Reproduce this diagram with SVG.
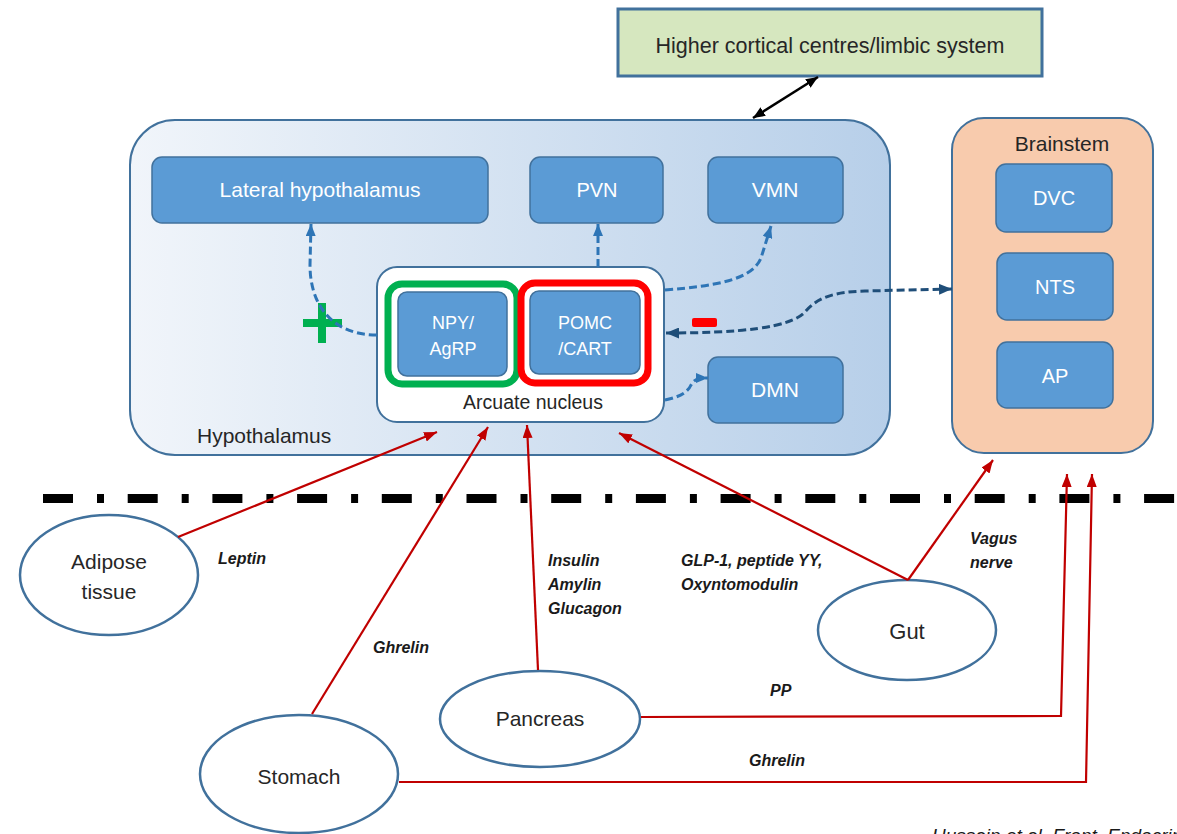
<svg xmlns="http://www.w3.org/2000/svg" width="1177" height="834" viewBox="0 0 1177 834">
<defs>
<linearGradient id="hypoGrad" x1="0" y1="0" x2="1" y2="0">
<stop offset="0" stop-color="#f1f5fa"/>
<stop offset="1" stop-color="#b7cfe9"/>
</linearGradient>
<marker id="redArrow" markerUnits="userSpaceOnUse" markerWidth="13" markerHeight="10" refX="13" refY="5" orient="auto">
<path d="M0,0 L13,5 L0,10 z" fill="#c00000"/>
</marker>
<marker id="blueArrow" markerUnits="userSpaceOnUse" markerWidth="12" markerHeight="10" refX="12" refY="5" orient="auto-start-reverse">
<path d="M0,0 L12,5 L0,10 z" fill="#2e75b6"/>
</marker>
<marker id="darkArrow" markerUnits="userSpaceOnUse" markerWidth="13" markerHeight="11" refX="13" refY="5.5" orient="auto-start-reverse">
<path d="M0,0 L13,5.5 L0,11 z" fill="#1f4e79"/>
</marker>
<marker id="blackArrow" markerUnits="userSpaceOnUse" markerWidth="12" markerHeight="10" refX="12" refY="5" orient="auto-start-reverse">
<path d="M0,0 L12,5 L0,10 z" fill="#000"/>
</marker>
</defs>
<style>
text{font-family:"Liberation Sans",Arial,sans-serif}
.box{fill:#5b9bd5;stroke:#41719c;stroke-width:1.5}
.wt{fill:#ffffff;font-size:20px;text-anchor:middle}
.dk{fill:#262626;text-anchor:middle}
.ell{fill:#ffffff;stroke:#41719c;stroke-width:2.5}
.lbl{fill:#1a1a1a;font-size:16px;font-weight:bold;font-style:italic}
.red{fill:none;stroke:#c00000;stroke-width:2.2;marker-end:url(#redArrow)}
.bd{fill:none;stroke:#2e75b6;stroke-width:3;stroke-dasharray:8 4;marker-end:url(#blueArrow)}
</style>
<rect width="1177" height="834" fill="#ffffff"/>

<g id="hypothalamus">
<rect x="130" y="120" width="760" height="335" rx="45" fill="url(#hypoGrad)" stroke="#41719c" stroke-width="2"/>
<text class="dk" x="197" y="443" style="text-anchor:start;font-size:21px">Hypothalamus</text>
</g>

<g id="higher-cortical">
<rect x="618" y="9" width="424" height="67" fill="#d6e7bf" stroke="#41719c" stroke-width="3"/>
<text class="dk" x="830" y="53" font-size="21.5">Higher cortical centres/limbic system</text>
</g>

<g id="lateral-hypothalamus">
<rect class="box" x="152" y="157" width="336" height="66" rx="10"/>
<text class="wt" x="320" y="197" style="font-size:21px">Lateral hypothalamus</text>
</g>
<g id="pvn">
<rect class="box" x="530" y="157" width="133" height="66" rx="10"/>
<text class="wt" x="597" y="197">PVN</text>
</g>
<g id="vmn">
<rect class="box" x="708" y="157" width="135" height="66" rx="10"/>
<text class="wt" x="775" y="197" style="font-size:21px">VMN</text>
</g>
<g id="dmn">
<rect class="box" x="708" y="357" width="135" height="66" rx="10"/>
<text class="wt" x="775" y="397" style="font-size:21px">DMN</text>
</g>

<g id="arcuate-nucleus">
<rect x="377" y="267" width="287" height="155" rx="20" fill="#ffffff" stroke="#41719c" stroke-width="2"/>
<text class="dk" x="533" y="409" font-size="19.5">Arcuate nucleus</text>
</g>
<g id="npy-agrp">
<rect x="388" y="284" width="129" height="100" rx="14" fill="none" stroke="#00b050" stroke-width="7"/>
<rect class="box" x="398" y="292" width="109" height="84" rx="9"/>
<text class="wt" x="453" y="329" style="font-size:18px">NPY/</text>
<text class="wt" x="453" y="355" style="font-size:18px">AgRP</text>
</g>
<g id="pomc-cart">
<rect x="521" y="283" width="127" height="100" rx="14" fill="none" stroke="#ff0000" stroke-width="7"/>
<rect class="box" x="530" y="291" width="110" height="83" rx="9"/>
<text class="wt" x="585" y="329" style="font-size:18px">POMC</text>
<text class="wt" x="585" y="355" style="font-size:18px">/CART</text>
</g>
<g id="plus-sign">
<rect x="303" y="319" width="39" height="8" fill="#00b050"/>
<rect x="318" y="303" width="8" height="40" fill="#00b050"/>
</g>
<g id="minus-sign">
<rect x="692" y="318" width="25" height="9" rx="2" fill="#ff0000"/>
</g>

<g id="brainstem">
<rect x="952" y="118" width="201" height="335" rx="32" fill="#f8cbad" stroke="#41719c" stroke-width="2"/>
<text class="dk" x="1062" y="151" font-size="21px">Brainstem</text>
</g>
<g id="dvc">
<rect class="box" x="996" y="164" width="116" height="68" rx="10"/>
<text class="wt" x="1054" y="205">DVC</text>
</g>
<g id="nts">
<rect class="box" x="997" y="253" width="116" height="67" rx="10"/>
<text class="wt" x="1055" y="294">NTS</text>
</g>
<g id="ap">
<rect class="box" x="997" y="342" width="116" height="66" rx="10"/>
<text class="wt" x="1055" y="383">AP</text>
</g>

<g id="adipose-tissue">
<ellipse class="ell" cx="109" cy="575" rx="89" ry="60"/>
<text class="dk" x="109" y="569" font-size="21">Adipose</text>
<text class="dk" x="109" y="599" font-size="21">tissue</text>
</g>
<g id="stomach">
<ellipse class="ell" cx="299" cy="774" rx="99" ry="59"/>
<text class="dk" x="299" y="784" font-size="21">Stomach</text>
</g>
<g id="pancreas">
<ellipse class="ell" cx="540" cy="719" rx="100" ry="48"/>
<text class="dk" x="540" y="726" font-size="21">Pancreas</text>
</g>
<g id="gut">
<ellipse class="ell" cx="907" cy="630" rx="89" ry="50"/>
<text class="dk" x="907" y="639" font-size="22">Gut</text>
</g>

<g id="connectors">
<line x1="753" y1="118" x2="818" y2="77" stroke="#000" stroke-width="2.5" marker-start="url(#blackArrow)" marker-end="url(#blackArrow)"/>
<path class="bd" d="M377,335 C332,335 310,305 310,265 L311,224"/>
<path class="bd" d="M598,267 L598,224"/>
<path class="bd" d="M665,290 C715,286 752,280 761,258 L771,226"/>
<path d="M666,333 C740,333 790,328 805,312 C817,298 832,292 865,291 L952,289" fill="none" stroke="#1f4e79" stroke-width="3" stroke-dasharray="8 4" marker-start="url(#darkArrow)" marker-end="url(#darkArrow)"/>
<path class="bd" d="M665,400 C680,397 688,392 691,385 C694,379 699,378 708,378"/>

<line x1="43" y1="498.5" x2="1177" y2="498.5" stroke="#000" stroke-width="9" stroke-dasharray="30 24 7 23.7"/>

<path class="red" d="M178,537 L437,432"/>
<path class="red" d="M312,714 L488,427"/>
<path class="red" d="M538,670 L527,425"/>
<path class="red" d="M908,580 L619,433"/>
<path class="red" d="M908,580 L993,460"/>
<path class="red" d="M641,717 L1061,716 L1067,474"/>
<path class="red" d="M399,782 L1086,782 L1092,474"/>
</g>

<g id="labels">
<text class="lbl" x="218" y="564">Leptin</text>
<text class="lbl" x="373" y="653">Ghrelin</text>
<text class="lbl" x="548" y="566">Insulin</text>
<text class="lbl" x="548" y="590">Amylin</text>
<text class="lbl" x="548" y="614">Glucagon</text>
<text class="lbl" x="681" y="566">GLP-1, peptide YY,</text>
<text class="lbl" x="681" y="590">Oxyntomodulin</text>
<text class="lbl" x="970" y="544">Vagus</text>
<text class="lbl" x="970" y="568">nerve</text>
<text class="lbl" x="770" y="696">PP</text>
<text class="lbl" x="749" y="766">Ghrelin</text>
<text x="932" y="842" font-size="19" font-style="italic" fill="#1a1a1a">Hussain et al. Front. Endocrinol</text>
</g>
</svg>
